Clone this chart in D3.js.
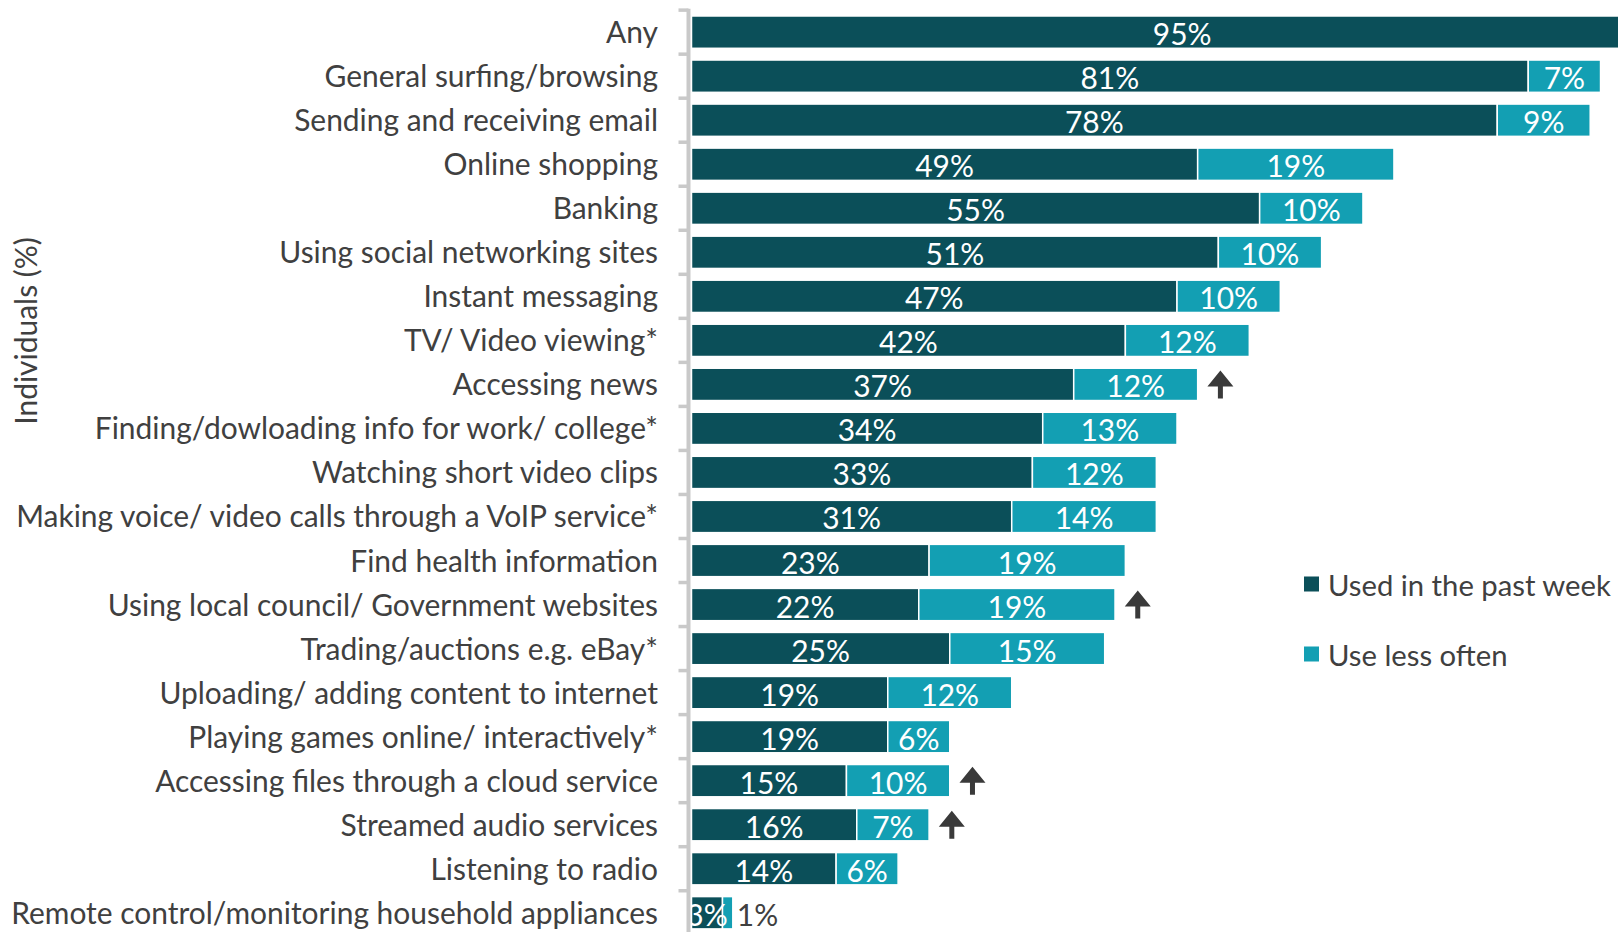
<!DOCTYPE html>
<html>
<head>
<meta charset="utf-8">
<script src="https://cdn.jsdelivr.net/npm/d3@7"></script>
<style>
  html, body { margin: 0; padding: 0; background: #ffffff; }
  svg { display: block; }
</style>
</head>
<body>
<svg id="chart" width="1618" height="932"></svg>
<script>
// Internet activities: share of individuals using each activity
const categories = [
  "Any",
  "General surfing/browsing",
  "Sending and receiving email",
  "Online shopping",
  "Banking",
  "Using social networking sites",
  "Instant messaging",
  "TV/ Video viewing*",
  "Accessing news",
  "Finding/dowloading info for work/ college*",
  "Watching short video clips",
  "Making voice/ video calls through a VoIP service*",
  "Find health information",
  "Using local council/ Government websites",
  "Trading/auctions e.g. eBay*",
  "Uploading/ adding content to internet",
  "Playing games online/ interactively*",
  "Accessing files through a cloud service",
  "Streamed audio services",
  "Listening to radio",
  "Remote control/monitoring household appliances"
];
const usedPastWeek = [95, 81, 78, 49, 55, 51, 47, 42, 37, 34, 33, 31, 23, 22, 25, 19, 19, 15, 16, 14, 3];
const useLessOften = [0, 7, 9, 19, 10, 10, 10, 12, 12, 13, 12, 14, 19, 19, 15, 12, 6, 10, 7, 6, 1];
const increasedSince = [
  "Accessing news",
  "Using local council/ Government websites",
  "Accessing files through a cloud service",
  "Streamed audio services"
];
const seriesNames = ["Used in the past week", "Use less often"];
const axisTitle = "Individuals (%)";

const W = 1618, H = 932;
const COLORS = ["#0b4f59", "#139fb3"];
const TEXT = "#404040";
const FONT = "Lato, 'Open Sans', sans-serif";

const svg = d3.select("#chart");

// Font sizes fitted to the widths available for the labels
function fitSize(str, width) {
  const t = svg.append("text").attr("font-family", FONT).attr("font-size", 32).text(str);
  const s = 32 * width / t.node().getComputedTextLength();
  t.remove();
  return s;
}
const fs = fitSize(categories[categories.length - 1], 647);
const legendFs = Math.min(fs, fitSize(seriesNames[0], 283));

const x0 = 691.5;
const x = d3.scaleLinear().domain([0, 100]).range([x0, x0 + 1033]);
const y = d3.scaleBand().domain(categories)
  .range([10.13, 934.76]).paddingInner(0.2664).paddingOuter(0.1332);
const step = y.step();

const rows = categories.map((c, i) => ({
  cat: c,
  segs: [
    { s: 0, v: usedPastWeek[i], k: 0 },
    { s: usedPastWeek[i], v: useLessOften[i], k: 1 }
  ].filter(d => d.v > 0)
}));

// Bars
const g = svg.append("g");
const rowG = g.selectAll("g.row").data(rows).join("g").attr("class", "row");
rowG.selectAll("rect").data(d => d.segs.map(s => ({ ...s, cat: d.cat }))).join("rect")
  .attr("x", d => x(d.s))
  .attr("y", d => y(d.cat))
  .attr("width", d => x(d.s + d.v) - x(d.s))
  .attr("height", y.bandwidth())
  .attr("fill", d => COLORS[d.k])
  .attr("stroke", "#ffffff")
  .attr("stroke-width", 1.5);

// Value labels
rowG.selectAll("text").data(d => d.segs.map(s => ({ ...s, cat: d.cat }))).join("text")
  .attr("x", d => d.v < 2 ? x(d.s + d.v) + 4 : x(d.s + d.v / 2))
  .attr("y", d => y(d.cat) + y.bandwidth() / 2 + 1)
  .attr("text-anchor", d => d.v < 2 ? "start" : "middle")
  .attr("dominant-baseline", "central")
  .attr("font-family", FONT)
  .attr("font-size", fs)
  .attr("fill", d => d.v < 2 ? TEXT : "#ffffff")
  .text(d => d.v + "%");

// Category axis: line with ticks between categories
const axis = svg.append("g");
axis.append("line")
  .attr("x1", 688.5).attr("x2", 688.5)
  .attr("y1", y(categories[0]) - step * 0.1332 - 1.5).attr("y2", H)
  .attr("stroke", "#c9c9c9").attr("stroke-width", 4);
axis.selectAll("line.tick").data(categories).join("line").attr("class", "tick")
  .attr("x1", 678.5).attr("x2", 688.5)
  .attr("y1", d => y(d) - step * 0.1332)
  .attr("y2", d => y(d) - step * 0.1332)
  .attr("stroke", "#c9c9c9").attr("stroke-width", 3.5);
axis.selectAll("text").data(categories).join("text")
  .attr("x", 658)
  .attr("y", d => y(d) + y.bandwidth() / 2 - 1)
  .attr("text-anchor", "end")
  .attr("dominant-baseline", "central")
  .attr("font-family", FONT)
  .attr("font-size", fs)
  .attr("fill", TEXT)
  .text(d => d);

// Upward arrows marking a rise
const arrowPath = "M0,-14 L13,2 L2.5,2 L2.5,14 L-2.5,14 L-2.5,2 L-13,2 Z";
svg.append("g").selectAll("path")
  .data(increasedSince.map(c => ({ cat: c, i: categories.indexOf(c) })))
  .join("path")
  .attr("d", arrowPath)
  .attr("transform", d => `translate(${x(usedPastWeek[d.i] + useLessOften[d.i] + 2.2)},${y(d.cat) + y.bandwidth() / 2})`)
  .attr("fill", "#3a3a3a");

// Axis title
svg.append("text")
  .attr("transform", "translate(25,331) rotate(-90)")
  .attr("text-anchor", "middle")
  .attr("dominant-baseline", "central")
  .attr("font-family", FONT)
  .attr("font-size", fs)
  .attr("fill", TEXT)
  .text(axisTitle);

// Legend
const leg = svg.append("g").selectAll("g").data(seriesNames).join("g")
  .attr("transform", (d, i) => `translate(1304,${584 + i * 70})`);
leg.append("rect").attr("x", 0).attr("y", -7.5).attr("width", 15).attr("height", 15)
  .attr("fill", (d, i) => COLORS[i]);
leg.append("text").attr("x", 24).attr("y", 0)
  .attr("dominant-baseline", "central")
  .attr("font-family", FONT)
  .attr("font-size", legendFs)
  .attr("fill", TEXT)
  .text(d => d);
</script>
</body>
</html>
